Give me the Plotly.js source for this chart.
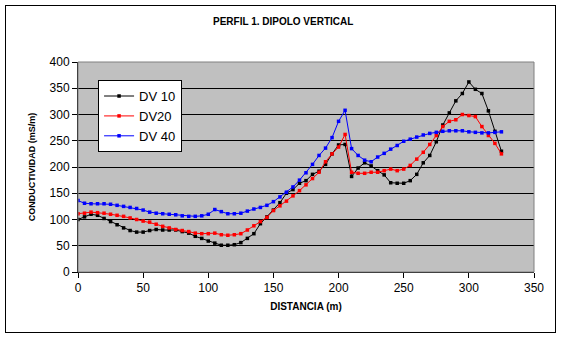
<!DOCTYPE html>
<html><head><meta charset="utf-8">
<script src="https://cdn.plot.ly/plotly-3.0.1.min.js"></script>
<style>
html,body{margin:0;padding:0;background:#fff;}
#wrap{position:relative;width:563px;height:338px;}
#chart{position:absolute;left:0;top:0;width:563px;height:338px;}
#frame{position:absolute;left:5px;top:5px;width:549px;height:326px;border:1px solid #000;pointer-events:none;}
</style></head>
<body>
<div id="wrap"><div id="chart"></div><div id="frame"></div></div>
<script>
const distancia = [0,5,10,15,20,25,30,35,40,45,50,55,60,65,70,75,80,85,90,95,100,105,110,115,120,125,130,135,140,145,150,155,160,165,170,175,180,185,190,195,200,205,210,215,220,225,230,235,240,245,250,255,260,265,270,275,280,285,290,295,300,305,310,315,320,325];
const dv10 = [100,105,110,108,102,96,90,84,79,76,76,79,81,80,80,80,77,74,68,64,59,55,51,51,52,56,64,73,92,105,118,132,150,157,169,174,186,192,205,225,242,243,182,198,208,202,193,185,170,169,169,174,186,208,222,248,280,303,326,340,362,348,340,307,268,230];
const dv20 = [111,112,114,113,112,110,108,106,103,100,97,95,91,87,84,81,79,77,74,73,73,74,71,70,71,73,80,88,96,104,117,126,135,145,155,166,178,190,210,225,238,262,190,188,188,190,190,193,196,193,196,203,215,228,243,260,277,287,290,300,298,296,277,260,245,225];
const dv40 = [136,131,130,130,130,129,127,125,123,121,118,114,112,111,110,109,107,106,106,107,110,119,115,111,111,112,116,120,123,127,134,143,152,162,175,189,205,222,236,256,287,308,235,222,213,210,219,226,234,241,249,253,257,261,264,266,268,269,269,269,267,266,265,265,266,267];
const seriesNames = ["DV 10","DV20","DV 40"];
const seriesColors = ["#000000","#ff0000","#0000ff"];
const titleText = "PERFIL 1. DIPOLO VERTICAL";
const xTitle = "DISTANCIA (m)";
const yTitle = "CONDUCTIVIDAD (mS/m)";

const ys = [dv10, dv20, dv40];
const traces = ys.map((y,i)=>({
  x: distancia, y: y, type:'scatter', mode:'lines+markers', name: seriesNames[i],
  line:{color:seriesColors[i], width:1},
  marker:{color:seriesColors[i], size:3.5, symbol:'square'}
}));

const layout = {
  width:563, height:338,
  margin:{l:78, r:29, t:62, b:66},
  paper_bgcolor:'#ffffff', plot_bgcolor:'#c0c0c0',
  font:{family:'Liberation Sans, Arial, sans-serif', color:'#000', size:12},
  title:{text:'<b>'+titleText+'</b>', font:{size:10}, x:0.503, xanchor:'center', y:0.935, yanchor:'middle'},
  showlegend:true,
  legend:{x:0.044, y:0.914, xanchor:'left', yanchor:'top', bgcolor:'#ffffff', bordercolor:'#000', borderwidth:1,
          font:{size:13}, tracegroupgap:0, itemwidth:30},
  xaxis:{range:[0,350], dtick:50, tick0:0, showgrid:false, zeroline:false, showline:true, linecolor:'#000', linewidth:1,
         ticks:'outside', ticklen:5, tickcolor:'#000', tickfont:{size:12},
         title:{text:'<b>'+xTitle+'</b>', font:{size:10}, standoff:8}},
  yaxis:{range:[0,400], dtick:50, tick0:0, showgrid:true, gridcolor:'#000', gridwidth:1, zeroline:false, showline:true, linecolor:'#000', linewidth:1,
         ticks:'outside', ticklen:5, tickcolor:'#000', tickfont:{size:12},
         title:{text:'<b>'+yTitle+'</b>', font:{size:9}, standoff:12}},
  shapes:[{type:'rect', xref:'paper', yref:'paper', x0:0, x1:1, y0:0, y1:1, line:{color:'#808080', width:1}, layer:'above'}]
};
Plotly.newPlot('chart', traces, layout, {displayModeBar:false, staticPlot:true});
</script>
</body></html>
